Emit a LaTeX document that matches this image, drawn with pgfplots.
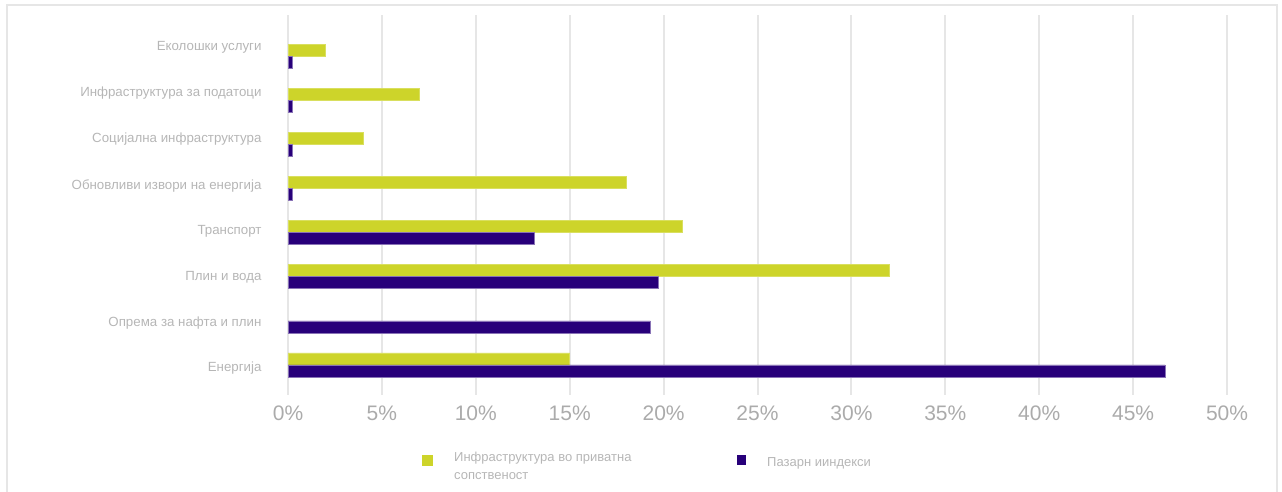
\documentclass[border=0pt]{standalone}
\usepackage{fontspec}
\setmainfont{Liberation Sans}
\usepackage{pgfplots}
\pgfplotsset{compat=1.18}
\definecolor{cgreen}{HTML}{CDD42A}
\definecolor{cpurple}{HTML}{28007A}
\definecolor{cgrid}{HTML}{E6E6E6}
\definecolor{ctext}{HTML}{B6B6B6}
\definecolor{ctick}{HTML}{ABABAB}
\begin{document}
\begin{tikzpicture}[x=1bp,y=1bp]
\useasboundingbox (0,0) rectangle (1282,492);
\draw[cgrid, line width=1.5bp] (7,-5) rectangle (1277,487);
\begin{axis}[
  at={(288bp,97bp)}, anchor=south west,
  scale only axis, width=939bp, height=380bp,
  xmin=0, xmax=50, ymin=-0.68, ymax=7.93,
  axis line style={draw=none},
  xtick={0,5,...,50},
  xticklabels={0\%,5\%,10\%,15\%,20\%,25\%,30\%,35\%,40\%,45\%,50\%},
  xticklabel style={font=\fontsize{21bp}{23bp}\selectfont, text=ctick, yshift=-7bp},
  ytick={-0.08,0.94,1.98,3.04,4.06,5.11,6.15,7.19},
  yticklabels={Енергија,Опрема за нафта и плин,Плин и вода,Транспорт,Обновливи извори на енергија,Социјална инфраструктура,Инфраструктура за податоци,Еколошки услуги},
  yticklabel style={font=\fontsize{13.3bp}{15bp}\selectfont, text=ctext, xshift=-23bp},
  major tick length=0pt,
  xmajorgrids, grid style={cgrid, line width=2bp},
  xbar, bar width=12bp,
  clip=false,
]
\addplot[fill=cgreen, draw=cgreen!75!white, line width=0.6bp, bar shift=6bp] coordinates {
 (15,0) (32,2) (21,3) (18,4) (4,5) (7,6) (2,7)
};
\addplot[fill=cpurple, draw=cpurple!55!white, line width=0.6bp, bar shift=-6bp] coordinates {
 (46.7,0) (19.3,1) (19.7,2) (13.1,3) (0.25,4) (0.25,5) (0.25,6) (0.25,7)
};
\end{axis}
% legend
\fill[cgreen] (422,492-466) rectangle (433,492-455);
\node[anchor=north west, inner sep=0, align=left, text=ctext, font=\fontsize{13bp}{18bp}\selectfont] at (454,492-452) {Инфраструктура во приватна\\сопственост};
\fill[cpurple] (737,492-465) rectangle (746,492-455);
\node[anchor=west, inner sep=0, text=ctext, font=\fontsize{13bp}{18bp}\selectfont] at (767,492-463) {Пазарн ииндекси};
\end{tikzpicture}
\end{document}
